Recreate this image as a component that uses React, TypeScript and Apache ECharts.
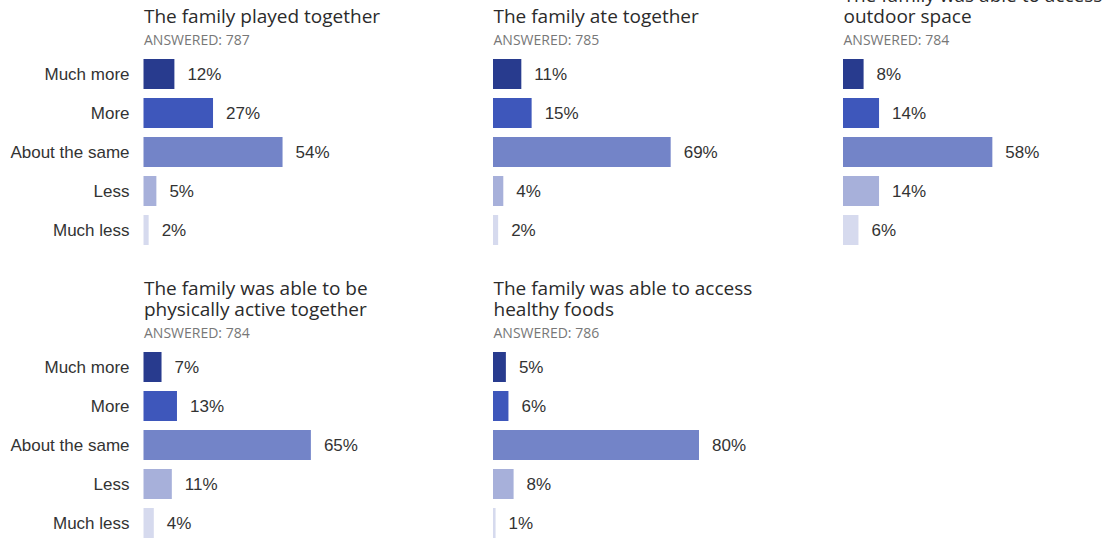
import React, { useEffect, useRef } from "react";
import * as echarts from "echarts";

// Response categories, shared by every panel
const categories = ["Much more", "More", "About the same", "Less", "Much less"];

// Panel headings (one entry per line) and answer counts
const panelTitles = [
  ["The family played together"],
  ["The family ate together"],
  ["The family was able to access", "outdoor space"],
  ["The family was able to be", "physically active together"],
  ["The family was able to access", "healthy foods"],
];
const answeredCounts = [787, 785, 784, 784, 786];

// Percent of respondents per category, one array per panel
const playedTogether = [12, 27, 54, 5, 2];
const ateTogether = [11, 15, 69, 4, 2];
const outdoorSpace = [8, 14, 58, 14, 6];
const activeTogether = [7, 13, 65, 11, 4];
const healthyFoods = [5, 6, 80, 8, 1];

const panelValues = [playedTogether, ateTogether, outdoorSpace, activeTogether, healthyFoods];

// One shade of blue per response category
const categoryColors = ["#283b8e", "#3e57bb", "#7384c8", "#a7b0da", "#d6daee"];

// Panel placement: column x, row top
const columnX = [143.5, 493, 843];
const rowTop = [54.5, 347.5];
const panelPos = [
  { col: 0, row: 0 },
  { col: 1, row: 0 },
  { col: 2, row: 0 },
  { col: 0, row: 1 },
  { col: 1, row: 1 },
];

const TITLE_FONT = '"Open Sans", "Noto Sans", sans-serif';
const LABEL_FONT = '"Liberation Sans", Arial, sans-serif';
const TITLE_LINE = 21.5;

export default function App() {
  const ref = useRef<HTMLDivElement>(null);

  useEffect(() => {
    if (!ref.current) return;
    const chart = echarts.init(ref.current, undefined, { renderer: "svg" });

    const grids: any[] = [];
    const xAxes: any[] = [];
    const yAxes: any[] = [];
    const series: any[] = [];
    const graphics: any[] = [];

    panelPos.forEach((p, i) => {
      const left = columnX[p.col];
      const top = rowTop[p.row];
      grids.push({ left, top, width: 257.5, height: 195 });
      xAxes.push({
        type: "value",
        gridIndex: i,
        min: 0,
        max: 100,
        show: false,
      });
      yAxes.push({
        type: "category",
        gridIndex: i,
        data: categories,
        inverse: true,
        axisLine: { show: false },
        axisTick: { show: false },
        splitLine: { show: false },
        axisLabel: {
          show: p.col === 0,
          margin: 14,
          color: "#333333",
          fontSize: 17,
          fontFamily: LABEL_FONT,
        },
      });
      series.push({
        type: "bar",
        xAxisIndex: i,
        yAxisIndex: i,
        barWidth: 30,
        data: panelValues[i].map((v, k) => ({
          value: v,
          itemStyle: { color: categoryColors[k] },
        })),
        label: {
          show: true,
          position: "right",
          distance: 13,
          formatter: "{c}%",
          color: "#333333",
          fontSize: 17,
          fontFamily: LABEL_FONT,
        },
        emphasis: { disabled: true },
      });

      // Heading lines stack upward from a shared last-line position
      const lastLineY = p.row === 0 ? 16 : 309;
      const lines = panelTitles[i];
      lines.forEach((line, li) => {
        graphics.push({
          type: "text",
          x: left + 0.5,
          y: lastLineY - (lines.length - 1 - li) * TITLE_LINE,
          style: {
            text: line,
            font: `19px ${TITLE_FONT}`,
            fill: "#2b2b2b",
            verticalAlign: "middle",
          },
        });
      });
      graphics.push({
        type: "text",
        x: left + 0.5,
        y: lastLineY + 23,
        style: {
          text: `ANSWERED: ${answeredCounts[i]}`,
          font: `14px ${TITLE_FONT}`,
          fill: "#777777",
          verticalAlign: "middle",
        },
      });
    });

    chart.setOption({
      animation: false,
      grid: grids,
      xAxis: xAxes,
      yAxis: yAxes,
      series,
      graphic: graphics,
    });

    return () => chart.dispose();
  }, []);

  // The drawing surface is taller than the visible frame so the lower
  // panels keep full row spacing; the frame clips the overflow.
  return (
    <div
      style={{
        position: "fixed",
        left: 0,
        top: 0,
        width: 1112,
        height: 538,
        overflow: "hidden",
        background: "#ffffff",
      }}
    >
      <div ref={ref} style={{ width: 1112, height: 560 }} />
    </div>
  );
}
